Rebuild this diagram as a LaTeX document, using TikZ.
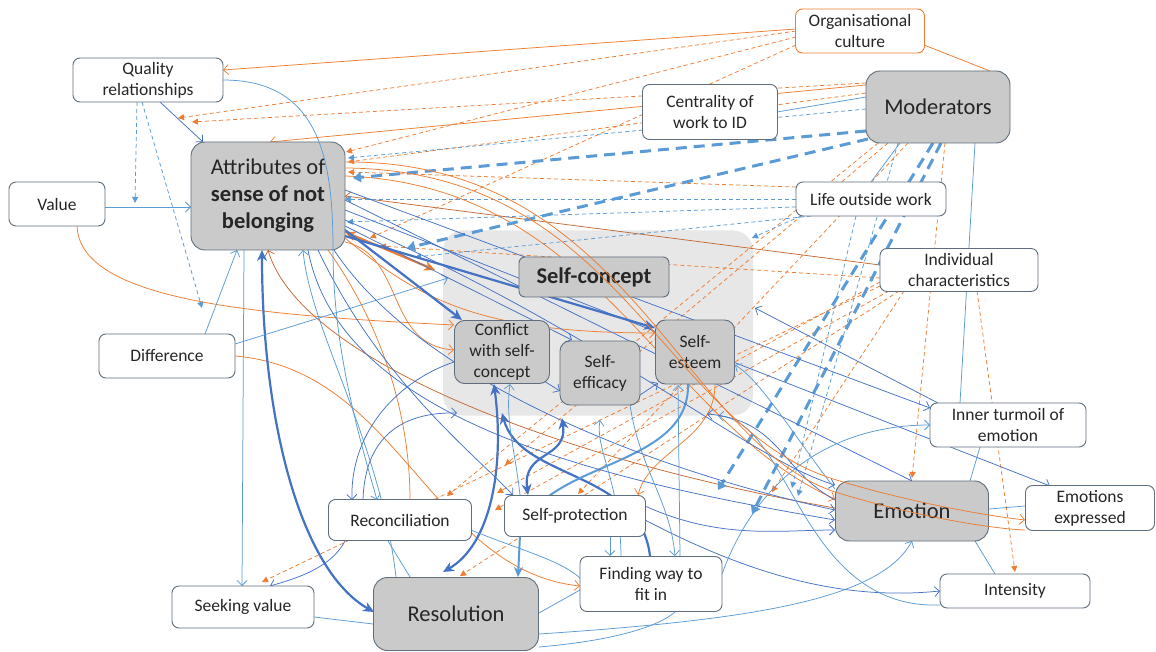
\documentclass[tikz,border=0pt]{standalone}
\usepackage{fontspec}
\setmainfont{Carlito}
\usetikzlibrary{calc,arrows.meta}
\definecolor{blu}{HTML}{4472C4}
\definecolor{lbl}{HTML}{5B9BD5}
\definecolor{ora}{HTML}{ED7D31}
\definecolor{brn}{HTML}{C46A35}
\definecolor{gfill}{HTML}{CACACA}
\definecolor{scfill}{HTML}{E8E7E7}
\definecolor{bord}{HTML}{5F6E7D}
\definecolor{txt}{HTML}{262626}
\pgfdeclarelayer{bg}\pgfdeclarelayer{edges}\pgfdeclarelayer{front}
\pgfsetlayers{bg,edges,main,front}
\tikzset{
  box/.style={draw=bord, line width=0.9pt, fill=white, rounded corners=7pt, text=txt, align=center, inner sep=0pt, font=\fontsize{17.5}{21}\selectfont},
  gbox/.style={box, fill=gfill, rounded corners=14pt, font=\fontsize{22.5}{27}\selectfont},
  sbox/.style={box, fill=gfill, rounded corners=10pt},
  tip/.style={-{Straight Barb[length=5pt,width=10pt]}},
  ln/.style={line width=0.75pt},
  bl/.style={ln, draw=blu},
  lb/.style={ln, draw=lbl},
  ol/.style={ln, draw=ora},
  dsh/.style={dash pattern=on 4pt off 3pt, -{Triangle[length=6pt,width=6pt]}},
  od/.style={ln, draw=ora, dsh},
  bd/.style={ln, draw=lbl, dsh},
  tdb/.style={draw=lbl, line width=3pt, dash pattern=on 11pt off 7pt, -{Triangle[length=8pt,width=10pt]}},
  thk/.style={draw=blu, line width=2.2pt, -{Stealth[length=11pt,width=10pt]}},
  thkk/.style={draw=blu, line width=2.2pt, {Stealth[length=11pt,width=10pt]}-{Stealth[length=11pt,width=10pt]}},
}
\begin{document}
\begin{tikzpicture}[x=1pt,y=-1pt]
\useasboundingbox (0,0) rectangle (1156,652);
\begin{pgfonlayer}{bg}
  \fill[white] (0,0) rectangle (1156,652);
  \node[fill=scfill, rounded corners=20pt, minimum width=310pt, minimum height=185pt, inner sep=0pt] (scbg) at (598,323) {};
\end{pgfonlayer}

% concept boxes
\node[box, draw=ora, minimum width=129pt, minimum height=44pt] (oc) at (860,31) {Organisational\\culture};
\node[box, minimum width=150pt, minimum height=44pt] (qr) at (148,80) {Quality\\relationships};
\node[gbox, minimum width=144pt, minimum height=72pt] (mod) at (938,107) {Moderators};
\node[box, minimum width=135pt, minimum height=55pt] (cen) at (710,112) {Centrality of\\work to ID};
\node[gbox, minimum width=154pt, minimum height=108pt] (attr) at (268,196) {Attributes of\\\textbf{sense of not}\\\textbf{belonging}};
\node[box, minimum width=96pt, minimum height=44pt] (val) at (57,204) {Value};
\node[box, minimum width=150pt, minimum height=34pt] (life) at (871,199) {Life outside work};
\node[gbox, rounded corners=6pt, minimum width=150pt, minimum height=40pt] (sc) at (594,277) {\textbf{Self-concept}};
\node[box, minimum width=158pt, minimum height=43pt] (ind) at (959,270) {Individual\\characteristics};
\node[box, minimum width=136pt, minimum height=44pt] (dif) at (167,356) {Difference};
\node[sbox, minimum width=95pt, minimum height=63pt] (con) at (502,352) {Conflict\\with self-\\concept};
\node[sbox, minimum width=80pt, minimum height=64pt] (eff) at (600,373) {Self-\\efficacy};
\node[sbox, minimum width=79pt, minimum height=64pt] (est) at (695,352) {Self-\\esteem};
\node[box, minimum width=156pt, minimum height=44pt] (inn) at (1008,425) {Inner turmoil of\\emotion};
\node[box, minimum width=143pt, minimum height=41pt] (rec) at (400,520) {Reconciliation};
\node[box, minimum width=141pt, minimum height=41pt] (spr) at (575,516) {Self-protection};
\node[gbox, minimum width=153pt, minimum height=60pt] (emo) at (912,511) {Emotion};
\node[box, minimum width=129pt, minimum height=45pt] (emx) at (1090,508) {Emotions\\expressed};
\node[box, minimum width=142pt, minimum height=55pt] (fit) at (651,584) {Finding way to\\fit in};
\node[box, minimum width=150pt, minimum height=34pt] (int) at (1015,591) {Intensity};
\node[box, minimum width=142pt, minimum height=42pt] (skv) at (243,607) {Seeking value};
\node[gbox, minimum width=165pt, minimum height=73pt] (res) at (456,614) {Resolution};

\begin{pgfonlayer}{edges}
% orange solid links
\draw[ol,tip] ($(oc)+(-64,-2)$) -- ($(qr)+(75,-10)$);
\draw[ol] ($(oc)+(64,14)$) -- ($(mod)+(52,-36)$);
\draw[ol,tip] ($(mod)+(-72,-22)$) -- ($(attr)+(2,-54)$);
\draw[ol,draw=brn,tip] ($(ind)+(-79,-5)$) -- ($(attr)+(77,0)$);
\draw[ol,tip] ($(val)+(20,22)$) .. controls (80,300) and (250,315) .. ($(con)+(-48,-27)$);
\draw[ol,tip] ($(attr)+(77,46)$) .. controls (405,255) and (385,345) .. ($(con)+(-48,-2)$);
\draw[ol,tip] ($(attr)+(77,42)$) .. controls (420,300) and (480,333) .. ($(est)+(-40,-19)$);
\draw[ol,tip] ($(attr)+(77,-20)$) .. controls (600,185) and (660,420) .. ($(emo)+(-77,-12)$);
\draw[ol,tip] ($(dif)+(68,0)$) .. controls (400,370) and (430,570) .. ($(fit)+(-71,2)$);
\draw[ol,draw=brn,tip] ($(emo)+(-77,-3)$) .. controls (560,460) and (300,360) .. ($(attr)+(0,54)$);
\draw[ol] ($(attr)+(60,54)$) .. controls (385,330) and (410,420) .. ($(rec)+(10,-20)$);
\draw[ol,tip] ($(est)+(20,32)$) .. controls (715,440) and (650,450) .. ($(spr)+(63,-21)$);
\draw[draw=ora, line width=2.2pt, {Stealth[length=11pt,width=10pt]}-{Stealth[length=11pt,width=10pt]}] ($(attr)+(77,36)$) -- ($(scbg)+(-163,-53)$);

% orange dashed links
\draw[od] ($(oc)+(-64,0)$) -- ($(qr)+(30,38)$);
\draw[od] ($(mod)+(-72,-24)$) -- ($(qr)+(44,42)$);
\draw[od] ($(oc)+(-64,6)$) -- ($(attr)+(78,-44)$);
\draw[od] ($(mod)+(-72,-14)$) -- ($(attr)+(80,-34)$);
\draw[od] ($(life)+(-75,-12)$) -- ($(attr)+(80,-24)$);
\draw[od] ($(oc)+(-64,14)$) -- ($(attr)+(102,42)$);
\draw[od] ($(ind)+(-79,8)$) -- ($(attr)+(112,50)$);
\draw[od] ($(ind)+(-79,16)$) -- ($(skv)+(19,-25)$);
\draw[od] ($(mod)+(-60,36)$) -- ($(rec)+(47,-24)$);
\draw[od] ($(mod)+(-50,36)$) -- ($(con)+(3,113)$);
\draw[od] ($(ind)+(-79,12)$) -- ($(rec)+(97,-27)$);
\draw[od] ($(ind)+(-70,21)$) -- ($(rec)+(95,-10)$);
\draw[od] ($(ind)+(-60,21)$) -- ($(res)+(4,-38)$);
\draw[od] ($(mod)+(-30,36)$) -- ($(spr)+(3,-22)$);
\draw[od] ($(ind)+(-55,21)$) -- ($(emo)+(-140,-19)$);
\draw[od] ($(mod)+(7,36)$) -- ($(emo)+(0,-33)$);
\draw[od] ($(ind)+(18,21)$) -- ($(int)+(0,-19)$);

% blue dashed links
\draw[bd] ($(qr)+(-11,22)$) -- ($(qr)+(-13,123)$);
\draw[bd] ($(qr)+(-6,22)$) -- ($(dif)+(35,-48)$);
\draw[bd] ($(mod)+(-72,2)$) -- ($(attr)+(80,-38)$);
\draw[bd] ($(life)+(-75,0)$) -- ($(attr)+(77,3)$);
\draw[bd] ($(life)+(-75,8)$) -- ($(attr)+(79,26)$);
\draw[bd] ($(life)+(-60,17)$) -- ($(attr)+(147,61)$);
\draw[bd] ($(life)+(-70,17)$) -- ($(scbg)+(154,-85)$);
\draw[bd] ($(life)+(-15,17)$) -- ($(emo)+(-120,-23)$);
\draw[bd] ($(mod)+(-40,36)$) -- ($(emo)+(-114,-15)$);

% heavy dashed moderator links
\draw[tdb] ($(mod)+(-72,24)$) -- ($(attr)+(85,-18)$);
\draw[tdb] ($(mod)+(-70,32)$) -- ($(attr)+(139,52)$);
\draw[tdb] ($(mod)+(-5,36)$) -- ($(emo)+(-194,-21)$);
\draw[tdb] ($(mod)+(3,36)$) -- ($(emo)+(-160,3)$);

% heavy solid links
\draw[thkk] ($(attr)+(-6,54)$) .. controls (262,420) and (300,570) .. ($(res)+(-82,-2)$);
\draw[thk] ($(attr)+(77,34)$) -- ($(con)+(-40,-32)$);
\draw[thk] ($(attr)+(77,40)$) -- ($(est)+(-40,-24)$);
\draw[thkk] ($(con)+(-8,32)$) .. controls (505,470) and (490,545) .. ($(res)+(-13,-42)$);
\draw[thk] ($(fit)+(-1,-28)$) .. controls (640,470) and (520,480) .. ($(con)+(0,61)$);
\draw[thkk] ($(spr)+(-47,-21)$) .. controls (522,450) and (568,460) .. ($(eff)+(-38,45)$);
\draw[draw=lbl, line width=2pt, -{Stealth[length=10pt,width=9pt]}] ($(est)+(-7,32)$) .. controls (690,470) and (540,460) .. (520,535) -- ($(res)+(62,-37)$);

% thin solid links
\draw[lb,tip] ($(val)+(48,3)$) -- ($(attr)+(-77,11)$);
\draw[bl,tip] ($(qr)+(12,22)$) -- ($(attr)+(-65,-54)$);
\draw[lb,tip] ($(dif)+(38,-22)$) -- ($(attr)+(-31,54)$);
\draw[lb,tip] ($(dif)+(68,-12)$) -- ($(scbg)+(-150,-45)$);
\draw[lb,tip] ($(attr)+(-24,54)$) -- ($(skv)+(-1,-21)$);
\draw[lb,tip] ($(res)+(-60,-37)$) .. controls (380,440) and (310,330) .. ($(attr)+(35,54)$);
\draw[bl,tip] ($(attr)+(50,54)$) .. controls (380,380) and (470,450) .. ($(spr)+(-62,-21)$);
\draw[bl,tip] ($(con)+(-48,10)$) .. controls (400,380) and (350,430) .. ($(rec)+(-48,-20)$);
\draw[bl,tip] ($(rec)+(-37,-20)$) .. controls (365,430) and (410,412) .. ($(scbg)+(-141,90)$);
\draw[bl,tip] ($(attr)+(77,4)$) -- ($(emo)+(0,-30)$);
\draw[bl,tip] ($(attr)+(77,-6)$) -- ($(inn)+(-78,-17)$);
\draw[bl,tip] ($(attr)+(77,14)$) -- ($(emx)+(-40,-22)$);
\draw[bl,tip] ($(attr)+(77,24)$) .. controls (600,330) and (750,460) .. ($(emo)+(-77,-26)$);
\draw[bl,tip] ($(attr)+(66,54)$) .. controls (420,380) and (650,470) .. ($(emo)+(-77,-1)$);
\draw[bl,tip] ($(attr)+(40,54)$) .. controls (340,420) and (600,480) .. ($(emo)+(-77,9)$);
\draw[bl,tip] ($(con)+(42,29)$) -- ($(eff)+(-40,18)$);
\draw[bl,tip] ($(eff)+(40,22)$) -- ($(est)+(-37,31)$);
\draw[bl,tip] ($(attr)+(77,30)$) -- ($(eff)+(-28,-33)$);
\draw[lb,tip] ($(spr)+(35,21)$) -- ($(fit)+(-41,-28)$);
\draw[bl,tip] ($(spr)+(70,-10)$) .. controls (720,540) and (780,530) .. ($(emo)+(-77,19)$);
\draw[bl,tip] ($(spr)+(70,4)$) .. controls (760,580) and (850,600) .. ($(int)+(-75,0)$);
\draw[lb,tip] ($(res)+(83,20)$) .. controls (750,620) and (880,600) .. ($(emo)+(0,30)$);
\draw[lb] ($(res)+(83,33)$) .. controls (620,640) and (660,625) .. ($(fit)+(24,28)$);
\draw[lb,tip] ($(fit)+(71,-10)$) .. controls (760,470) and (840,425) .. ($(inn)+(-78,0)$);
\draw[bl,tip] ($(inn)+(-70,-22)$) -- ($(scbg)+(157,-15)$);
\draw[lb,tip] ($(int)+(-75,14)$) .. controls (800,610) and (790,420) .. ($(scbg)+(120,93)$);
\draw[bl,tip] ($(emo)+(-77,-11)$) .. controls (780,470) and (780,420) .. ($(scbg)+(109,91)$);
\draw[lb,tip] ($(emo)+(-77,-22)$) .. controls (790,430) and (760,380) .. ($(est)+(40,13)$);
\draw[lb] ($(inn)+(-28,22)$) -- ($(emo)+(58,-30)$);
\draw[lb] ($(emo)+(77,-2)$) -- ($(emx)+(-65,-2)$);
\draw[lb] ($(emo)+(63,30)$) -- ($(int)+(-20,-17)$);
\draw[lb] ($(mod)+(37,36)$) -- ($(inn)+(-48,-22)$);
\draw[lb] ($(mod)+(-38,36)$) -- ($(life)+(0,-17)$);
\draw[lb] ($(mod)+(-72,-10)$) -- ($(cen)+(67,0)$);
\draw[lb] ($(skv)+(71,10)$) -- ($(res)+(-83,10)$);
\draw[bl,tip] ($(rec)+(-55,21)$) .. controls (330,570) and (290,580) .. ($(skv)+(27,-21)$);
\draw[lb] ($(rec)+(-12,21)$) -- ($(res)+(-46,-37)$);
\draw[lb,tip] ($(eff)+(30,32)$) .. controls (640,470) and (670,500) .. ($(fit)+(24,-28)$);
\draw[lb,tip] ($(spr)+(-55,-21)$) .. controls (515,450) and (505,420) .. ($(con)+(8,32)$);
\draw[lb,tip] ($(fit)+(-30,-28)$) .. controls (620,480) and (595,450) .. ($(eff)+(0,47)$);
\draw[lb,tip] ($(fit)+(29,-28)$) -- ($(est)+(-17,33)$);
\draw[lb] ($(rec)+(71,10)$) .. controls (520,550) and (560,560) .. ($(fit)+(-71,-6)$);
\draw[lb] ($(res)+(83,-1)$) -- ($(fit)+(-71,6)$);
\end{pgfonlayer}

\begin{pgfonlayer}{front}
\draw[lb,tip] ($(qr)+(75,0)$) .. controls (320,80) and (333,160) .. (333,250) .. controls (333,350) and (360,440) .. ($(rec)+(-23,-20)$);
\draw[ol,tip] ($(attr)+(77,-28)$) .. controls (620,170) and (660,420) .. (830,478) .. controls (900,500) and (980,515) .. ($(emx)+(-65,12)$);
\draw[ol] ($(attr)+(77,-34)$) .. controls (630,160) and (680,440) .. (835,492) .. controls (900,512) and (980,528) .. ($(emx)+(-65,22)$);
\end{pgfonlayer}
\end{tikzpicture}
\end{document}
